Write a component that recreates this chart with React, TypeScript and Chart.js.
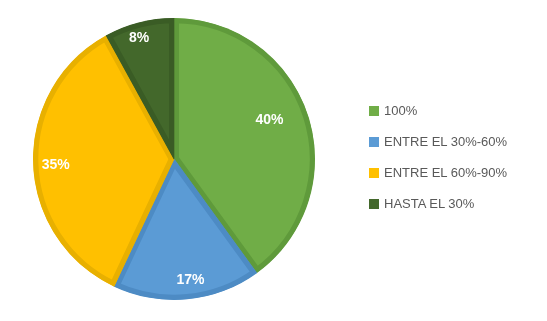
import React, { useEffect, useRef } from "react";
import { Chart, registerables } from "chart.js";

Chart.register(...registerables);

const categories = ["100%", "ENTRE EL 30%-60%", "ENTRE EL 60%-90%", "HASTA EL 30%"];
const values = [40, 17, 35, 8];
const valueLabels = ["40%", "17%", "35%", "8%"];

const fillColors = ["#70AD47", "#5B9BD5", "#FFC000", "#43682B"];
const borderColors = ["#5F9A3B", "#4D8BC4", "#E8B000", "#3A5C25"];
// radial position of each data label, as a fraction of the outer radius
const labelRadius = [0.73, 0.87, 0.84, 0.89];
const labelAngleShift = [-0.07, -0.04, -0.02, -0.03];

const dataLabelPlugin = {
  id: "pieDataLabels",
  afterDatasetsDraw(chart: any) {
    const meta = chart.getDatasetMeta(0);
    const ctx = chart.ctx;
    ctx.save();
    ctx.fillStyle = "#FFFFFF";
    ctx.font = "bold 14px 'Liberation Sans', Arial, sans-serif";
    ctx.textAlign = "center";
    ctx.textBaseline = "middle";
    meta.data.forEach((arc: any, i: number) => {
      const { x, y, startAngle, endAngle, outerRadius } = arc.getProps(
        ["x", "y", "startAngle", "endAngle", "outerRadius"],
        true
      );
      const mid = (startAngle + endAngle) / 2 + labelAngleShift[i];
      const r = outerRadius * labelRadius[i];
      ctx.fillText(valueLabels[i], x + Math.cos(mid) * r, y + Math.sin(mid) * r);
    });
    ctx.restore();
  },
};

export default function App() {
  const canvasRef = useRef<HTMLCanvasElement | null>(null);

  useEffect(() => {
    if (!canvasRef.current) return;
    const chart = new Chart(canvasRef.current, {
      type: "pie",
      data: {
        labels: categories,
        datasets: [
          {
            data: values,
            backgroundColor: fillColors,
            borderColor: borderColors,
            borderWidth: 5,
            borderAlign: "inner",
          },
        ],
      },
      options: {
        animation: false,
        responsive: false,
        maintainAspectRatio: false,
        layout: { padding: { left: 33, right: 232, top: 18, bottom: 21 } },
        plugins: {
          legend: { display: false },
          tooltip: { enabled: false },
        },
      },
      plugins: [dataLabelPlugin],
    });
    return () => chart.destroy();
  }, []);

  return (
    <div
      style={{
        position: "fixed",
        left: 0,
        top: 0,
        width: 547,
        height: 321,
        background: "#FFFFFF",
      }}
    >
      <canvas ref={canvasRef} width={547} height={321} style={{ position: "absolute", left: 0, top: 0 }} />
      <div
        style={{
          position: "absolute",
          left: 369,
          top: 95,
          fontFamily: "'Liberation Sans', Arial, sans-serif",
          fontSize: 13,
          color: "#595959",
        }}
      >
        {categories.map((c, i) => (
          <div
            key={c}
            style={{ display: "flex", alignItems: "center", height: 31 }}
          >
            <span
              style={{
                display: "inline-block",
                width: 10,
                height: 10,
                background: fillColors[i],
                marginRight: 5,
              }}
            />
            <span style={{ lineHeight: "16px" }}>{c}</span>
          </div>
        ))}
      </div>
    </div>
  );
}
